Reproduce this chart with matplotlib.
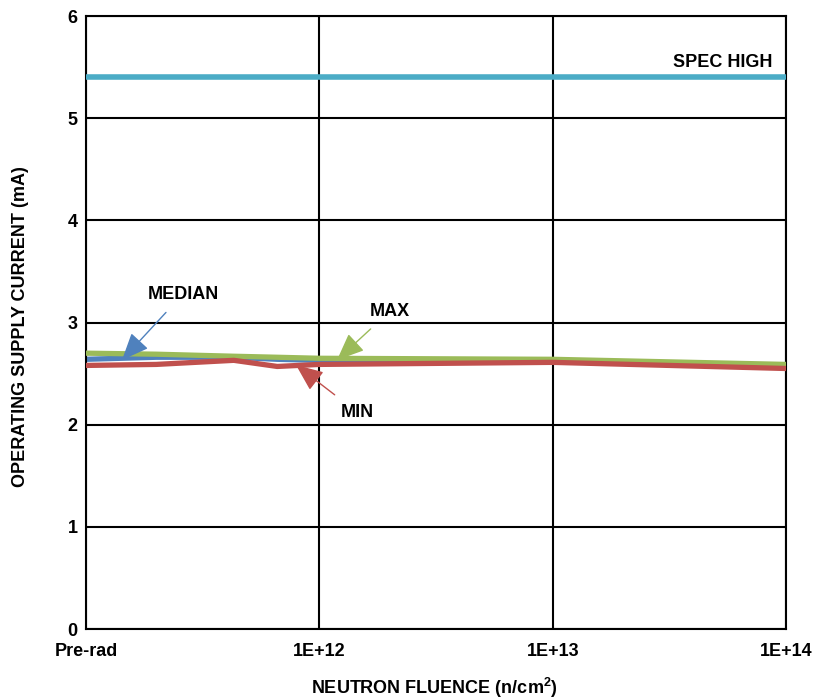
import matplotlib
matplotlib.use("Agg")
import matplotlib.pyplot as plt
import numpy as np

plt.rcParams['font.family'] = 'Liberation Sans'
plt.rcParams['font.weight'] = 'bold'
plt.rcParams['axes.labelweight'] = 'bold'
plt.rcParams['mathtext.fontset'] = 'custom'
plt.rcParams['mathtext.rm'] = 'Liberation Sans:bold'
plt.rcParams['mathtext.bf'] = 'Liberation Sans:bold'
plt.rcParams['mathtext.it'] = 'Liberation Sans:bold'

# Data
fluence = [1e11, 2e11, 4.3e11, 6.6e11, 1e12, 1e13, 1e14]
max_current = [2.70, 2.69, 2.67, 2.66, 2.65, 2.64, 2.59]
median_current = [2.64, 2.66, 2.66, 2.64, 2.63, 2.63, 2.58]
min_current = [2.58, 2.59, 2.63, 2.57, 2.59, 2.61, 2.55]
spec_high = 5.4
tick_positions = [1e11, 1e12, 1e13, 1e14]
tick_labels = ["Pre-rad", "1E+12", "1E+13", "1E+14"]

FS = 13

fig = plt.figure(figsize=(8.15, 7.0), dpi=100)
ax = fig.add_axes([0.1055, 0.1014, 0.859, 0.8757])

ax.plot(fluence, max_current, color="#9BBB59", lw=3.8, zorder=3)
ax.plot(fluence, median_current, color="#4F81BD", lw=3.8, zorder=2)
ax.plot(fluence, min_current, color="#C0504D", lw=3.8, zorder=4)
ax.plot([fluence[0], fluence[-1]], [spec_high, spec_high], color="#4BACC6", lw=4, zorder=3)

ax.set_xscale("log")
ax.set_xlim(1e11, 1e14)
ax.set_ylim(0, 6)
ax.set_xticks(tick_positions)
ax.set_xticklabels(tick_labels, fontweight="bold")
ax.xaxis.set_minor_locator(matplotlib.ticker.NullLocator())
ax.set_yticks(range(0, 7))
ax.set_yticklabels([str(v) for v in range(0, 7)], fontweight="bold")
ax.grid(True, color="black", lw=1.5)
ax.tick_params(length=0, labelsize=FS)
ax.tick_params(axis="x", pad=10)
ax.tick_params(axis="y", pad=6)
for s in ax.spines.values():
    s.set_linewidth(1.5)

ax.set_xlabel("NEUTRON FLUENCE (n/cm$^{2}$)", fontsize=FS, fontweight="bold")
ax.set_ylabel("OPERATING SUPPLY CURRENT (mA)", fontsize=FS, fontweight="bold")
ax.xaxis.set_label_coords(0.497, -0.076)
ax.yaxis.set_label_coords(-0.082, 0.494)

ax.text(0.98, 0.925, "SPEC HIGH", transform=ax.transAxes, ha="right", va="center",
        fontsize=FS, fontweight="bold")

def ann(text, tip, txt, color, ha="center"):
    ax.annotate(text, xy=tip, xycoords="axes fraction", xytext=txt, textcoords="axes fraction",
                ha=ha, va="center", fontsize=FS, fontweight="bold",
                arrowprops=dict(arrowstyle="-|>,head_length=1.3,head_width=0.55", color=color, lw=1.0,
                                shrinkA=7, shrinkB=0))

ann("MEDIAN", ((122 - 86) / 700, (629 - 360) / 613), ((183 - 86) / 700, (629 - 294) / 613), "#4F81BD")
ann("MAX", ((337 - 86) / 700, (629 - 360) / 613), ((390 - 86) / 700, (629 - 311) / 613), "#9BBB59")
ann("MIN", ((296 - 86) / 700, (629 - 365) / 613), ((357 - 86) / 700, (629 - 412) / 613), "#C0504D")

fig.savefig("out.png", dpi=100)
